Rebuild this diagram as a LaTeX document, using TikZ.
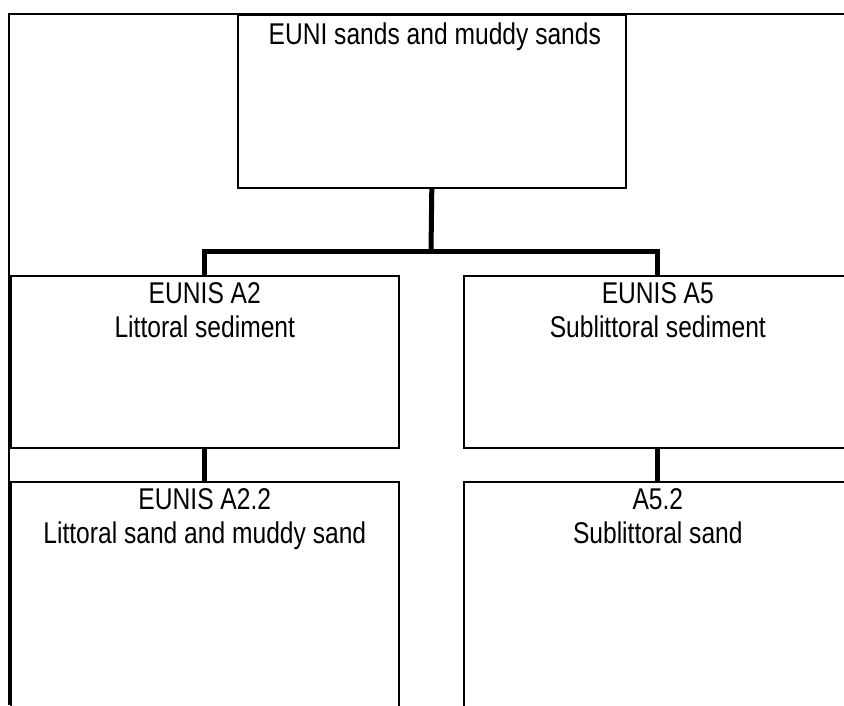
\documentclass[tikz,border=0pt]{standalone}
\usepackage{fontspec}
\setmainfont{Liberation Sans}[FakeStretch=0.82]
\usetikzlibrary{calc}
\begin{document}
\begin{tikzpicture}[x=1pt,y=-1pt,
  box/.style={draw=black, line width=1.6pt, inner sep=0pt, minimum width=388pt, minimum height=172pt, anchor=north west},
  boxtext/.style={anchor=north, inner sep=0pt, align=center, font=\fontsize{30pt}{34pt}\selectfont},
  conn/.style={draw=black, line width=5pt, line join=miter}]
\useasboundingbox (0,0) rectangle (844,705);
\clip (0,0) rectangle (844,705);
% frame
\draw[line width=1.6pt] (9,705) -- (9,14) -- (850,14);
% boxes
\node[box, minimum height=173pt] (top) at (237,14) {};
\node[box] (A2) at (10,275) {};
\node[box] (A5) at (463,275) {};
\node[box, minimum height=260pt] (A22) at (10,481) {};
\node[box, minimum height=260pt] (A52) at (463,481) {};
% texts
\node[boxtext] (ttop) at ($(top.north)+(3,9)$) {EUNI sands and muddy sands};
\node[boxtext] (tA2) at ($(A2.north)+(0,7)$) {EUNIS A2\\Littoral sediment};
\node[boxtext] (tA5) at ($(A5.north)+(0,7)$) {EUNIS A5\\Sublittoral sediment};
\node[boxtext] (tA22) at ($(A22.north)+(0,7)$) {EUNIS A2.2\\Littoral sand and muddy sand};
\node[boxtext] (tA52) at ($(A52.north)+(0,7)$) {A5.2\\Sublittoral sand};
% connectors
\coordinate (j) at (431,251);
\draw[conn] (top.south) -- (j);
\draw[conn] (A2.north) |- (j) -| (A5.north);
\draw[conn] (A2.south) -- (A22.north);
\draw[conn] (A5.south) -- (A52.north);
\end{tikzpicture}
\end{document}
